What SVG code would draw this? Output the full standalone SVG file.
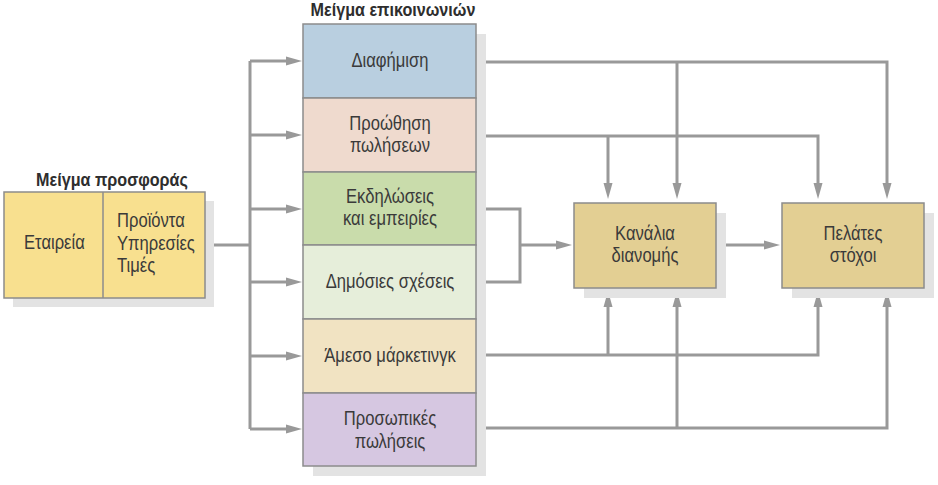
<svg xmlns="http://www.w3.org/2000/svg" width="938" height="485" viewBox="0 0 938 485">
<defs>
<marker id="ah" markerUnits="userSpaceOnUse" markerWidth="16" markerHeight="10" refX="8" refY="4.5" orient="auto" viewBox="0 0 16 9">
<path d="M0,0 L16,4.5 L0,9 z" fill="#999999"/>
</marker>
</defs>
<style>
.t{font-family:"Liberation Sans",Arial,sans-serif;font-size:20px;fill:#3a3a3a}
.c{text-anchor:middle}
.h{font-family:"Liberation Sans",Arial,sans-serif;font-size:19px;font-weight:bold;fill:#2e2e2e;text-anchor:middle}
.sh{fill:#e3e3e3}
.bx{stroke:#8c8c8c;stroke-width:1.5}
.ln{fill:none;stroke:#999999;stroke-width:3}
.ar{fill:none;stroke:#999999;stroke-width:3;marker-end:url(#ah)}
</style>
<rect width="938" height="485" fill="#ffffff"/>
<g id="connectors">
<path class="ln" d="M205,245 H250 M250,61 V429"/>
<path class="ar" d="M250,61 H294"/>
<path class="ar" d="M250,135 H294"/>
<path class="ar" d="M250,209 H294"/>
<path class="ar" d="M250,282 H294"/>
<path class="ar" d="M250,356 H294"/>
<path class="ar" d="M250,429 H294"/>
<path class="ar" d="M476,62 H887 V191"/>
<path class="ar" d="M677,62 V191"/>
<path class="ar" d="M476,136 H818 V191"/>
<path class="ar" d="M608,136 V191"/>
<path class="ln" d="M476,209 H520 V282 H476"/>
<path class="ar" d="M520,245 H564"/>
<path class="ar" d="M716,245 H772"/>
<path class="ar" d="M476,355 H818 V299"/>
<path class="ar" d="M608,355 V299"/>
<path class="ar" d="M476,428 H887 V299"/>
<path class="ar" d="M677,428 V299"/>
</g>
<g id="offer-mix">
<text class="h" transform="translate(112 186) scale(0.85 1)">Μείγμα προσφοράς</text>
<rect class="sh" x="13" y="201" width="201" height="106"/>
<rect class="bx" x="4" y="192" width="201" height="106" fill="#f8e08f"/>
<line class="bx" x1="103" y1="192" x2="103" y2="298"/>
<text class="t" transform="translate(24 249) scale(0.83 1)">Εταιρεία</text>
<text class="t" transform="translate(117 227) scale(0.83 1)">Προϊόντα</text>
<text class="t" transform="translate(117 250) scale(0.83 1)">Υπηρεσίες</text>
<text class="t" transform="translate(117 272) scale(0.83 1)">Τιμές</text>
</g>
<g id="communication-mix">
<text class="h" transform="translate(393 16) scale(0.85 1)">Μείγμα επικοινωνιών</text>
<rect class="sh" x="313" y="34" width="173" height="442"/>
</g>
<g id="advertising">
<rect class="bx" x="303" y="24" width="173" height="74" fill="#b9cfe0"/>
<text class="t c" transform="translate(390 67) scale(0.83 1)">Διαφήμιση</text>
</g>
<g id="sales-promotion">
<rect class="bx" x="303" y="98" width="173" height="74" fill="#efdace"/>
<text class="t c" transform="translate(390 130) scale(0.83 1)">Προώθηση</text>
<text class="t c" transform="translate(390 152) scale(0.83 1)">πωλήσεων</text>
</g>
<g id="events">
<rect class="bx" x="303" y="172" width="173" height="73" fill="#c9dcab"/>
<text class="t c" transform="translate(390 203) scale(0.83 1)">Εκδηλώσεις</text>
<text class="t c" transform="translate(390 225) scale(0.83 1)">και εμπειρίες</text>
</g>
<g id="public-relations">
<rect class="bx" x="303" y="245" width="173" height="74" fill="#e6eeda"/>
<text class="t c" transform="translate(390 288) scale(0.83 1)">Δημόσιες σχέσεις</text>
</g>
<g id="direct-marketing">
<rect class="bx" x="303" y="319" width="173" height="74" fill="#f1e3c2"/>
<text class="t c" transform="translate(390 362) scale(0.83 1)">Άμεσο μάρκετινγκ</text>
</g>
<g id="personal-selling">
<rect class="bx" x="303" y="393" width="173" height="73" fill="#d6c7e1"/>
<text class="t c" transform="translate(390 425) scale(0.83 1)">Προσωπικές</text>
<text class="t c" transform="translate(390 448) scale(0.83 1)">πωλήσεις</text>
</g>
<g id="channels">
<rect class="sh" x="584" y="213" width="142" height="85"/>
<rect class="bx" x="574" y="203" width="142" height="85" fill="#e3cf93"/>
<text class="t c" transform="translate(645 240) scale(0.83 1)">Κανάλια</text>
<text class="t c" transform="translate(645 262) scale(0.83 1)">διανομής</text>
</g>
<g id="customers">
<rect class="sh" x="792" y="213" width="142" height="85"/>
<rect class="bx" x="782" y="203" width="142" height="85" fill="#e3cf93"/>
<text class="t c" transform="translate(853 240) scale(0.83 1)">Πελάτες</text>
<text class="t c" transform="translate(853 262) scale(0.83 1)">στόχοι</text>
</g>
</svg>
